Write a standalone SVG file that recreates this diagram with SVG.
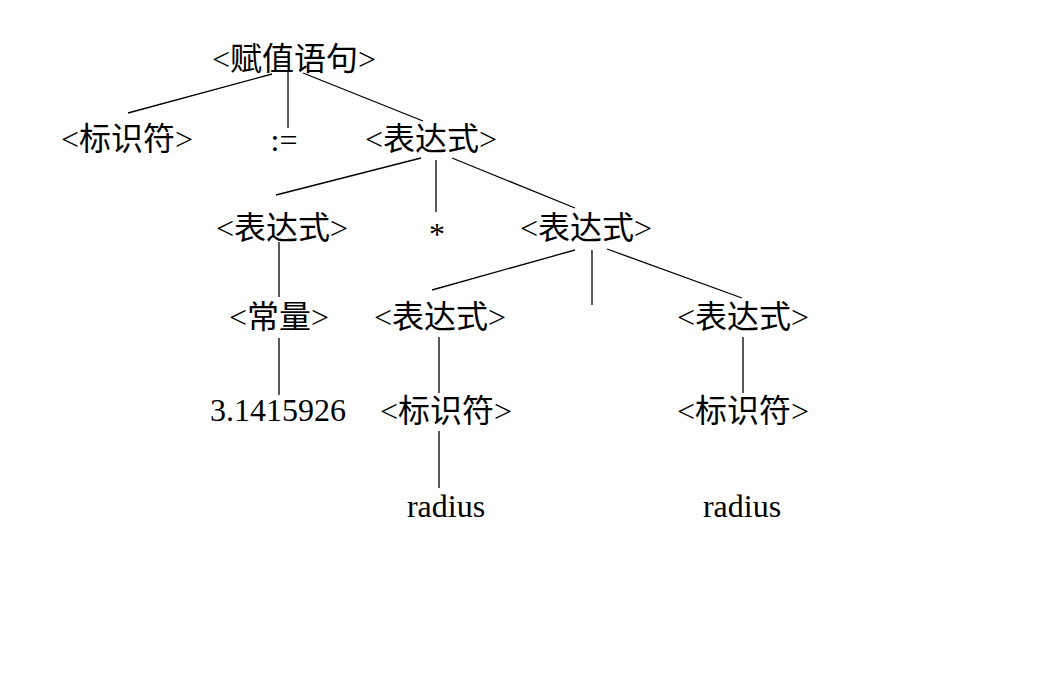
<svg xmlns="http://www.w3.org/2000/svg" width="1044" height="673" viewBox="0 0 1044 673">
<style>
text{font-family:"Liberation Serif","Noto Sans CJK SC",serif;font-size:32px;fill:#000;text-anchor:middle}
.e line{stroke:#000;stroke-width:1.3}
</style>
<rect width="1044" height="673" fill="#fff"/>
<g class="e" id="connectors">
<line x1="128" y1="113" x2="272" y2="74"/>
<line x1="288" y1="72" x2="288" y2="128"/>
<line x1="303" y1="73" x2="423" y2="121"/>
<line x1="276" y1="195" x2="421" y2="158"/>
<line x1="436" y1="160" x2="436" y2="212"/>
<line x1="452" y1="158" x2="575" y2="208"/>
<line x1="279" y1="242" x2="279" y2="297"/>
<line x1="432" y1="290" x2="575" y2="250"/>
<line x1="592" y1="250" x2="592" y2="305"/>
<line x1="607" y1="249" x2="742" y2="298"/>
<line x1="279" y1="338" x2="279" y2="395"/>
<line x1="439" y1="337" x2="439" y2="393"/>
<line x1="743" y1="337" x2="743" y2="393"/>
<line x1="439" y1="431" x2="439" y2="488"/>
</g>
<g id="n_root"><text x="294" y="70">&lt;赋值语句&gt;</text></g>
<g id="n_id1"><text x="127" y="150">&lt;标识符&gt;</text></g>
<g id="n_assign"><text x="284" y="151">:=</text></g>
<g id="n_expr1"><text x="431" y="150">&lt;表达式&gt;</text></g>
<g id="n_expr2"><text x="282" y="239">&lt;表达式&gt;</text></g>
<g id="n_mul"><text x="437" y="245">*</text></g>
<g id="n_expr3"><text x="586" y="239">&lt;表达式&gt;</text></g>
<g id="n_const"><text x="279" y="328">&lt;常量&gt;</text></g>
<g id="n_expr4"><text x="440" y="328">&lt;表达式&gt;</text></g>
<g id="n_expr5"><text x="743" y="328">&lt;表达式&gt;</text></g>
<g id="n_num"><text x="278" y="421">3.1415926</text></g>
<g id="n_id2"><text x="446" y="422">&lt;标识符&gt;</text></g>
<g id="n_id3"><text x="743" y="422">&lt;标识符&gt;</text></g>
<g id="n_r1"><text x="446" y="517">radius</text></g>
<g id="n_r2"><text x="742" y="517">radius</text></g>
</svg>
